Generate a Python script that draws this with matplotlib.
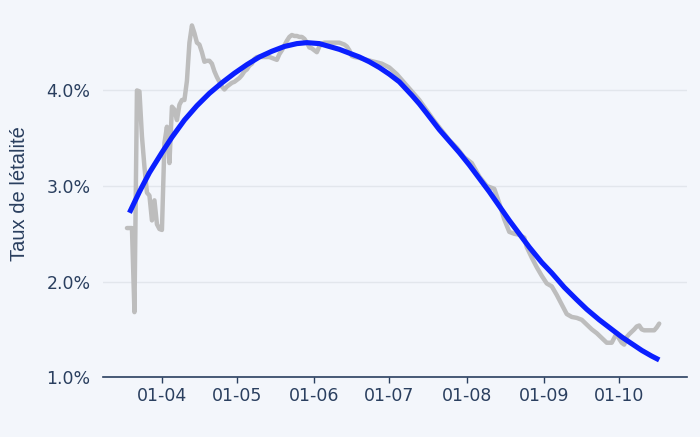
import matplotlib
matplotlib.use("Agg")
import matplotlib.pyplot as plt
import matplotlib.dates as mdates
import pandas as pd

# Observed daily case-fatality rate (%)
obs_dates = [
    "2020-03-18", "2020-03-19", "2020-03-20", "2020-03-21", "2020-03-22", "2020-03-23",
    "2020-03-24", "2020-03-25", "2020-03-26", "2020-03-27", "2020-03-28", "2020-03-29",
    "2020-03-30", "2020-03-31", "2020-04-01", "2020-04-02", "2020-04-03", "2020-04-04",
    "2020-04-05", "2020-04-06", "2020-04-07", "2020-04-08", "2020-04-09", "2020-04-10",
    "2020-04-11", "2020-04-12", "2020-04-13", "2020-04-14", "2020-04-15", "2020-04-16",
    "2020-04-17", "2020-04-18", "2020-04-19", "2020-04-20", "2020-04-21", "2020-04-22",
    "2020-04-23", "2020-04-24", "2020-04-25", "2020-04-26", "2020-04-27", "2020-04-28",
    "2020-04-29", "2020-04-30", "2020-05-01", "2020-05-02", "2020-05-03", "2020-05-04",
    "2020-05-05", "2020-05-06", "2020-05-07", "2020-05-08", "2020-05-09", "2020-05-11",
    "2020-05-14", "2020-05-15", "2020-05-16", "2020-05-17", "2020-05-18", "2020-05-19",
    "2020-05-20", "2020-05-21", "2020-05-22", "2020-05-23", "2020-05-24", "2020-05-25",
    "2020-05-26", "2020-05-27", "2020-05-28", "2020-05-29", "2020-05-30", "2020-05-31",
    "2020-06-01", "2020-06-02", "2020-06-03", "2020-06-04", "2020-06-05", "2020-06-08",
    "2020-06-11", "2020-06-12", "2020-06-13", "2020-06-14", "2020-06-15", "2020-06-16",
    "2020-06-17", "2020-06-19", "2020-06-22", "2020-06-25", "2020-06-28", "2020-07-01",
    "2020-07-04", "2020-07-07", "2020-07-10", "2020-07-13", "2020-07-16", "2020-07-19",
    "2020-07-22", "2020-07-25", "2020-07-28", "2020-07-31", "2020-08-03", "2020-08-06",
    "2020-08-09", "2020-08-12", "2020-08-14", "2020-08-16", "2020-08-18", "2020-08-20",
    "2020-08-22", "2020-08-24", "2020-08-25", "2020-08-27", "2020-08-29", "2020-08-31",
    "2020-09-02", "2020-09-04", "2020-09-06", "2020-09-08", "2020-09-10", "2020-09-12",
    "2020-09-14", "2020-09-16", "2020-09-18", "2020-09-20", "2020-09-22", "2020-09-24",
    "2020-09-26", "2020-09-28", "2020-09-30", "2020-10-01", "2020-10-02", "2020-10-03",
    "2020-10-04", "2020-10-05", "2020-10-07", "2020-10-08", "2020-10-09", "2020-10-10",
    "2020-10-11", "2020-10-15", "2020-10-16", "2020-10-17",
]
obs_rate = [
    2.56, 2.56, 2.56, 1.68, 4.00, 3.99,
    3.52, 3.20, 2.93, 2.90, 2.64, 2.85,
    2.60, 2.55, 2.54, 3.45, 3.62, 3.24,
    3.83, 3.80, 3.69, 3.85, 3.90, 3.90,
    4.10, 4.50, 4.68, 4.60, 4.50, 4.48,
    4.40, 4.30, 4.31, 4.31, 4.28, 4.20,
    4.14, 4.09, 4.04, 4.01, 4.04, 4.06,
    4.08, 4.09, 4.11, 4.13, 4.16, 4.20,
    4.22, 4.26, 4.28, 4.33, 4.35, 4.35,
    4.35, 4.34, 4.33, 4.32, 4.38, 4.42,
    4.47, 4.52, 4.56, 4.58, 4.57, 4.57,
    4.56, 4.56, 4.54, 4.50, 4.45, 4.44,
    4.42, 4.40, 4.46, 4.49, 4.50, 4.50,
    4.50, 4.49, 4.48, 4.46, 4.42, 4.36,
    4.35, 4.34, 4.32, 4.30, 4.28, 4.24,
    4.17, 4.08, 3.99, 3.90, 3.79, 3.68,
    3.58, 3.48, 3.40, 3.30, 3.24, 3.10,
    3.00, 2.97, 2.82, 2.65, 2.52, 2.50,
    2.49, 2.46, 2.36, 2.25, 2.15, 2.06,
    1.98, 1.95, 1.86, 1.76, 1.66, 1.63,
    1.62, 1.60, 1.55, 1.50, 1.46, 1.41,
    1.36, 1.36, 1.46, 1.40, 1.36, 1.34,
    1.42, 1.45, 1.50, 1.53, 1.54, 1.50,
    1.49, 1.49, 1.52, 1.56,
]

# Smoothed trend (%)
trend_dates = [
    "2020-03-19", "2020-03-23", "2020-03-27", "2020-04-01", "2020-04-05", "2020-04-10",
    "2020-04-15", "2020-04-20", "2020-04-25", "2020-04-30", "2020-05-05", "2020-05-10",
    "2020-05-15", "2020-05-20", "2020-05-25", "2020-05-29", "2020-06-03", "2020-06-07",
    "2020-06-11", "2020-06-15", "2020-06-19", "2020-06-23", "2020-06-27", "2020-07-01",
    "2020-07-05", "2020-07-10", "2020-07-13", "2020-07-16", "2020-07-21", "2020-07-25",
    "2020-07-29", "2020-08-02", "2020-08-06", "2020-08-10", "2020-08-14", "2020-08-18",
    "2020-08-22", "2020-08-26", "2020-08-31", "2020-09-04", "2020-09-09", "2020-09-14",
    "2020-09-18", "2020-09-23", "2020-09-28", "2020-10-02", "2020-10-06", "2020-10-10",
    "2020-10-14", "2020-10-17",
]
trend_rate = [
    2.72, 2.94, 3.14, 3.35, 3.51, 3.69,
    3.84, 3.97, 4.08, 4.18, 4.27, 4.35,
    4.41, 4.46, 4.49, 4.50, 4.49, 4.46,
    4.43, 4.39, 4.35, 4.30, 4.24, 4.17,
    4.09, 3.95, 3.86, 3.76, 3.59, 3.47,
    3.35, 3.22, 3.08, 2.94, 2.79, 2.64,
    2.50, 2.36, 2.20, 2.09, 1.94, 1.81,
    1.71, 1.60, 1.50, 1.42, 1.35, 1.28,
    1.22, 1.18,
]

y_ticks = [1.0, 2.0, 3.0, 4.0]
y_tick_labels = ["1.0%", "2.0%", "3.0%", "4.0%"]
y_label = "Taux de létalité"

BG = "#f3f6fb"
TXT = "#2a3f5f"

fig = plt.figure(figsize=(7.0, 4.37), dpi=100, facecolor=BG)
ax = fig.add_axes([0.147, 0.137, 0.834, 0.831], facecolor=BG)

ax.plot(pd.to_datetime(obs_dates), obs_rate, color="#bdbdbd", lw=3.2,
        solid_joinstyle="round", solid_capstyle="round", zorder=2)
ax.plot(pd.to_datetime(trend_dates), trend_rate, color="#0a1fff", lw=3.7,
        solid_joinstyle="round", solid_capstyle="butt", zorder=3)

ax.set_xlim(pd.Timestamp("2020-03-08 09:00"), pd.Timestamp("2020-10-28"))
ax.set_ylim(1.0, 4.8)

ax.xaxis.set_major_locator(mdates.MonthLocator(bymonth=range(4, 11)))
ax.xaxis.set_major_formatter(mdates.DateFormatter("%d-%m"))
ax.set_yticks(y_ticks)
ax.set_yticklabels(y_tick_labels)

for s in ["top", "right", "left"]:
    ax.spines[s].set_visible(False)
ax.spines["bottom"].set_color(TXT)
ax.spines["bottom"].set_linewidth(1.2)

ax.grid(axis="y", color="#e2e6ec", lw=1.0, zorder=0)
ax.set_axisbelow(True)

ax.tick_params(axis="x", colors=TXT, length=4, width=1, pad=3, labelsize=12.5)
ax.tick_params(axis="y", colors=TXT, length=0, pad=9, labelsize=12.5)

fig.text(20 / 700, 1 - 194 / 437, y_label, rotation=90, ha="center", va="center",
         color=TXT, fontsize=14.5, family=["Liberation Sans", "DejaVu Sans"])

fig.savefig("out.png", dpi=100, facecolor=BG)
